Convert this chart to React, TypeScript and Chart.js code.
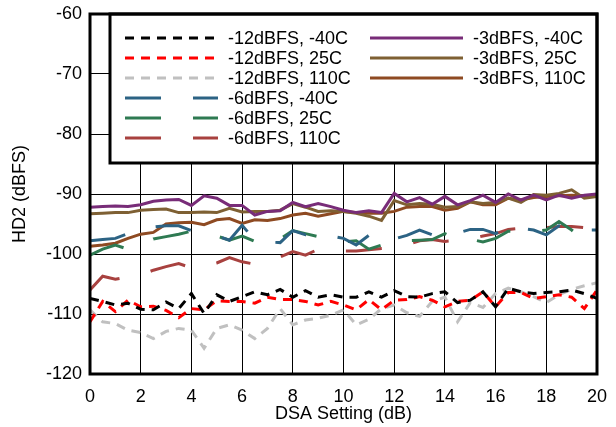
import React, { useEffect, useRef } from "react";
import { Chart, registerables } from "chart.js";
Chart.register(...registerables);

const FONT = "'Liberation Sans', Arial, Helvetica, sans-serif";

const dsaSetting = [
  0, 0.5, 1, 1.5, 2, 2.5, 3, 3.5, 4, 4.5, 5, 5.5, 6, 6.5, 7, 7.5, 8, 8.5, 9, 9.5, 10,
  10.5, 11, 11.5, 12, 12.5, 13, 13.5, 14, 14.5, 15, 15.5, 16, 16.5, 17, 17.5, 18, 18.5, 19, 19.5, 20,
];
const xTicks = [0, 2, 4, 6, 8, 10, 12, 14, 16, 18, 20];
const yTicks = [-120, -110, -100, -90, -80, -70, -60];

const m12_n40 = [-107.4,-107.9,-108.5,-108.2,-109.2,-109.3,-108.0,-109.1,-106.6,-109.9,-106.8,-107.9,-107.1,-106.3,-106.8,-105.9,-107.2,-106.1,-107.2,-106.8,-107.2,
  -107.2,-106.3,-107.2,-106.1,-107.1,-107.2,-106.6,-106.3,-108.1,-107.7,-106.3,-108.8,-105.7,-106.3,-106.6,-106.4,-106.3,-106.0,-106.6,-107.4];
const m12_25 = [-111.3,-107.9,-109.6,-107.7,-108.8,-108.7,-109.4,-110.6,-109.1,-109.3,-107.8,-107.9,-107.9,-108.2,-107.2,-107.6,-107.6,-107.9,-108.5,-107.9,-108.5,
  -109.3,-107.6,-109.3,-107.7,-107.6,-107.1,-107.7,-108.8,-107.9,-107.7,-106.3,-108.8,-106.4,-106.4,-107.4,-107.1,-106.8,-107.2,-109.1,-106.0];
const m12_110 = [-109.3,-111.3,-111.6,-112.7,-113.1,-114.1,-112.9,-112.4,-112.7,-115.7,-112.4,-111.8,-112.7,-114.1,-112.4,-109.1,-111.8,-111.0,-110.7,-110.2,-109.3,
  -111.8,-110.9,-109.1,-108.5,-109.8,-110.4,-107.9,-107.2,-111.3,-108.1,-108.9,-106.6,-105.7,-106.3,-107.1,-108.1,-106.8,-105.9,-105.3,-104.8];
const m6_n40 = [-97.8,-97.6,-97.4,-96.6,-96.5,-95.5,-95.3,-95.3,-96.1,-96.5,-97.0,-97.7,-95.2,-97.7,-98.0,-98.1,-96.1,-96.8,-96.6,-97.0,-97.4,
  -98.5,-96.9,-98.1,-97.5,-96.9,-96.0,-96.8,-96.7,-96.5,-95.9,-95.9,-96.6,-95.3,-95.7,-96.0,-96.8,-95.3,-95.7,-96.0,-96.0];
const m6_25 = [-100.2,-99.2,-98.5,-99.2,-98.5,-97.5,-97.1,-96.7,-96.2,-96.5,-97.0,-97.7,-97.0,-97.9,-98.5,-97.5,-96.1,-96.6,-97.1,-97.7,-98.0,
  -97.8,-99.2,-98.5,-97.8,-97.8,-97.7,-97.6,-96.6,-97.6,-97.5,-98.0,-97.4,-96.2,-96.3,-96.3,-96.0,-94.6,-96.0,-97.8,-97.4];
const m6_110 = [-106.0,-103.7,-104.2,-103.8,-103.5,-102.7,-102.1,-101.6,-102.3,-102.0,-101.5,-100.6,-101.3,-101.7,-101.5,-100.5,-99.6,-100.2,-99.2,-99.3,-99.5,
  -99.5,-99.3,-99.1,-98.9,-98.5,-97.8,-97.6,-97.9,-97.7,-97.5,-97.0,-96.6,-95.9,-95.7,-95.7,-95.6,-95.4,-95.4,-95.6,-95.3];
const m3_n40 = [-92.2,-92.1,-92.0,-92.1,-91.8,-91.2,-91.0,-90.9,-91.9,-90.3,-90.7,-91.9,-91.9,-93.5,-92.9,-92.8,-91.4,-92.1,-91.6,-92.1,-92.7,
  -93.1,-92.8,-93.1,-89.9,-91.3,-90.6,-91.7,-90.4,-91.8,-91.1,-90.2,-91.4,-90.0,-91.0,-90.2,-91.0,-90.2,-90.7,-90.2,-90.0];
const m3_25 = [-93.3,-93.2,-93.1,-93.1,-92.7,-92.6,-92.5,-93.1,-93.1,-93.0,-93.1,-92.4,-93.0,-92.9,-92.9,-92.7,-91.6,-92.2,-92.9,-92.8,-92.9,
  -93.2,-93.7,-94.4,-91.1,-91.8,-91.6,-91.7,-92.2,-92.1,-91.3,-91.6,-91.4,-90.7,-91.4,-90.1,-90.2,-89.9,-89.3,-90.7,-90.4];
const m3_110 = [-98.7,-98.5,-98.2,-97.4,-96.7,-96.4,-95.0,-94.8,-94.7,-95.1,-94.3,-94.1,-94.9,-94.3,-94.4,-94.1,-93.5,-93.2,-93.7,-93.3,-92.9,
  -93.1,-93.2,-93.2,-92.9,-92.2,-92.1,-92.1,-92.7,-92.4,-91.3,-91.8,-91.8,-90.7,-91.0,-90.6,-90.4,-90.3,-90.2,-90.3,-90.2];

const seriesLabels = [
  "-12dBFS, -40C", "-12dBFS, 25C", "-12dBFS, 110C",
  "-6dBFS, -40C", "-6dBFS, 25C", "-6dBFS, 110C",
  "-3dBFS, -40C", "-3dBFS, 25C", "-3dBFS, 110C",
];
const seriesValues = [m12_n40, m12_25, m12_110, m6_n40, m6_25, m6_110, m3_n40, m3_25, m3_110];
const seriesColors = [
  "#000000", "#FF0000", "#C0C0C0",
  "#2C6384", "#2E7A52", "#A8413F",
  "#782C78", "#7E6033", "#8E4A22",
];
const shortDash = [9, 7];
const longDash = [36, 32];
const seriesDash = [shortDash, shortDash, shortDash, longDash, longDash, longDash, [], [], []];

export default function App() {
  const ref = useRef<HTMLCanvasElement>(null);
  useEffect(() => {
    document.body.style.margin = "0";
    const canvas = ref.current!;

    const overlay = {
      id: "overlay",
      afterDatasetsDraw(chart: any) {
        const { ctx, chartArea: a } = chart;
        const l = a.left + 20, t = a.top, r = a.right, b = a.top + 149;
        ctx.save();
        ctx.fillStyle = "#ffffff";
        ctx.fillRect(l, t, r - l, b - t);
        ctx.lineWidth = 3;
        ctx.strokeStyle = "#000";
        ctx.strokeRect(l, t, r - l, b - t);
        chart.data.datasets.forEach((ds: any, i: number) => {
          const col = i < 6 ? 0 : 1;
          const row = i < 6 ? i : i - 6;
          const x0 = l + (col ? 260 : 15);
          const x1 = x0 + 93;
          const y = t + 24 + row * 20;
          ctx.setLineDash(ds.borderDash || []);
          ctx.lineWidth = 3;
          ctx.strokeStyle = ds.borderColor;
          ctx.beginPath();
          ctx.moveTo(x0, y);
          ctx.lineTo(x1, y);
          ctx.stroke();
          ctx.setLineDash([]);
          ctx.fillStyle = "#000";
          ctx.font = `18px ${FONT}`;
          ctx.textBaseline = "middle";
          ctx.textAlign = "left";
          ctx.fillText(ds.label, x1 + 10, y + 1);
        });
        ctx.lineWidth = 3;
        ctx.strokeStyle = "#000";
        ctx.strokeRect(a.left, a.top, a.right - a.left, a.bottom - a.top);
        ctx.restore();
      },
    };

    const chart = new Chart(canvas, {
      type: "line",
      data: {
        datasets: seriesValues.map((vals, i) => ({
          label: seriesLabels[i],
          data: vals.map((v, k) => ({ x: dsaSetting[k], y: v })),
          borderColor: seriesColors[i],
          backgroundColor: seriesColors[i],
          borderDash: seriesDash[i],
          borderWidth: 3,
          pointRadius: 0,
          tension: 0,
          fill: false,
        })),
      },
      options: {
        responsive: false,
        animation: false,
        devicePixelRatio: 1,
        layout: { padding: { top: 14, right: 19, left: 0, bottom: 0 } },
        plugins: { legend: { display: false }, tooltip: { enabled: false } },
        scales: {
          x: {
            type: "linear",
            min: 0,
            max: 20,
            afterBuildTicks: (s: any) => { s.ticks = xTicks.map((v) => ({ value: v })); },
            afterFit: (s: any) => { s.height = 53; s.paddingLeft = 0; s.paddingRight = 0; },
            grid: { color: "#000", lineWidth: 1, drawTicks: false },
            border: { display: false },
            ticks: { color: "#000", padding: 12, font: { family: FONT, size: 18 }, maxRotation: 0 },
            title: { display: true, text: "DSA Setting (dB)", color: "#000", font: { family: FONT, size: 18 }, padding: { top: 0, bottom: 2 } },
          },
          y: {
            type: "linear",
            min: -120,
            max: -60,
            afterBuildTicks: (s: any) => { s.ticks = yTicks.map((v) => ({ value: v })); },
            afterFit: (s: any) => { s.width = 90; s.paddingTop = 0; s.paddingBottom = 0; },
            grid: { color: "#000", lineWidth: 1, drawTicks: false },
            border: { display: false },
            ticks: { color: "#000", padding: 8, font: { family: FONT, size: 18 } },
            title: { display: true, text: "HD2 (dBFS)", color: "#000", font: { family: FONT, size: 18 }, padding: { top: 9, bottom: 0 } },
          },
        },
      },
      plugins: [overlay],
    } as any);
    return () => chart.destroy();
  }, []);
  return <canvas ref={ref} width={616} height={427} style={{ display: "block", width: 616, height: 427 }} />;
}
